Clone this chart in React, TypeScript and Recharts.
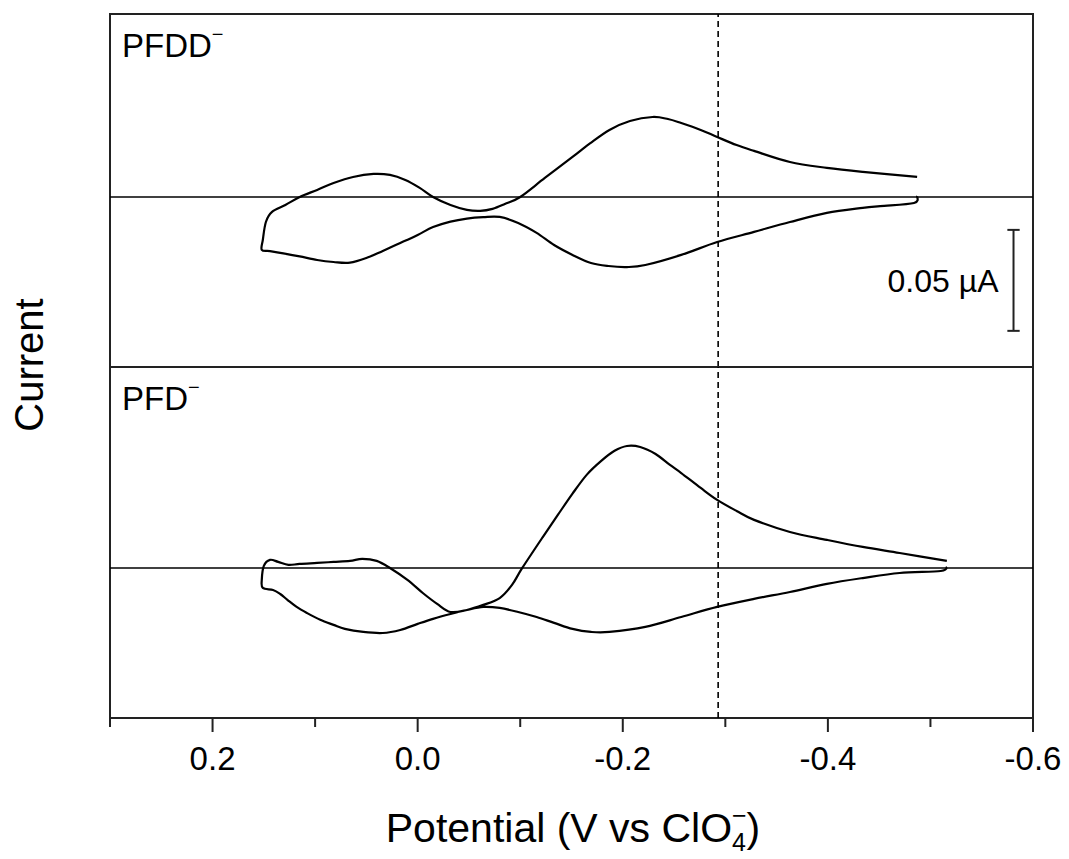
import React from 'react';
import { LineChart, Line, XAxis, YAxis, ReferenceLine, ReferenceArea } from 'recharts';

// PFDD- scan, potential (V) and current (µA) in recorded order
const pfddPotential = [
  -0.487, -0.484, -0.451, -0.434, -0.399, -0.363, -0.328, -0.292, -0.257, -0.222,
  -0.204, -0.186, -0.169, -0.151, -0.133, -0.116, -0.098, -0.080, -0.064, -0.048,
  -0.032, -0.015, 0.0, 0.017, 0.034, 0.049, 0.066, 0.082, 0.098, 0.115,
  0.131, 0.144, 0.152, 0.151, 0.148, 0.142, 0.129, 0.115, 0.098, 0.082,
  0.063, 0.043, 0.027, 0.012, -0.002, -0.015, -0.032, -0.048, -0.061, -0.073,
  -0.085, -0.100, -0.124, -0.151, -0.168, -0.187, -0.207, -0.229, -0.244, -0.257,
  -0.276, -0.292, -0.311, -0.328, -0.363, -0.399, -0.434, -0.487,
];
const pfddCurrent = [
  0.0005, -0.0030, -0.0045, -0.0054, -0.0079, -0.0124, -0.0173, -0.0223, -0.0287, -0.0337,
  -0.0347, -0.0342, -0.0327, -0.0287, -0.0238, -0.0178, -0.0129, -0.0099, -0.0100, -0.0107,
  -0.0122, -0.0149, -0.0188, -0.0228, -0.0267, -0.0300, -0.0325, -0.0322, -0.0312, -0.0294,
  -0.0279, -0.0268, -0.0262, -0.0213, -0.0124, -0.0074, -0.0040, 0.0, 0.0035, 0.0069,
  0.0099, 0.0114, 0.0109, 0.0084, 0.0045, 0.0, -0.0040, -0.0064, -0.0069, -0.0059,
  -0.0035, 0.0, 0.0094, 0.0198, 0.0265, 0.0332, 0.0376, 0.0396, 0.0386, 0.0366,
  0.0332, 0.0297, 0.0257, 0.0228, 0.0173, 0.0144, 0.0124, 0.0099,
];

// PFD- scan
const pfdPotential = [
  -0.516, -0.510, -0.470, -0.434, -0.399, -0.363, -0.328, -0.292, -0.257, -0.222,
  -0.187, -0.169, -0.151, -0.133, -0.116, -0.098, -0.080, -0.064, -0.048, -0.032,
  -0.015, 0.0, 0.017, 0.034, 0.053, 0.071, 0.082, 0.095, 0.108, 0.118,
  0.127, 0.134, 0.141, 0.151, 0.152, 0.150, 0.144, 0.136, 0.126, 0.115,
  0.098, 0.082, 0.066, 0.054, 0.040, 0.027, 0.010, -0.005, -0.019, -0.032,
  -0.048, -0.064, -0.080, -0.092, -0.102, -0.122, -0.137, -0.151, -0.165, -0.179,
  -0.192, -0.204, -0.217, -0.232, -0.246, -0.257, -0.276, -0.292, -0.311, -0.328,
  -0.363, -0.399, -0.434, -0.470, -0.516,
];
const pfdCurrent = [
  0.0005, -0.0015, -0.0025, -0.0050, -0.0079, -0.0119, -0.0153, -0.0193, -0.0243, -0.0292,
  -0.0317, -0.0317, -0.0302, -0.0272, -0.0243, -0.0218, -0.0198, -0.0193, -0.0208, -0.0228,
  -0.0252, -0.0277, -0.0307, -0.0322, -0.0317, -0.0302, -0.0282, -0.0257, -0.0223, -0.0193,
  -0.0158, -0.0129, -0.0109, -0.0099, -0.0059, 0.0010, 0.0040, 0.0030, 0.0015, 0.0020,
  0.0025, 0.0030, 0.0035, 0.0045, 0.0035, 0.0, -0.0059, -0.0124, -0.0178, -0.0218,
  -0.0208, -0.0183, -0.0149, -0.0084, 0.0, 0.0153, 0.0265, 0.0368, 0.0462, 0.0530,
  0.0580, 0.0604, 0.0599, 0.0564, 0.0510, 0.0470, 0.0396, 0.0337, 0.0282, 0.0238,
  0.0178, 0.0139, 0.0104, 0.0074, 0.0035,
];

const xTicks = [0.3, 0.2, 0.1, 0.0, -0.1, -0.2, -0.3, -0.4, -0.5, -0.6];
const majorTicks = [0.2, 0.0, -0.2, -0.4, -0.6];
const xDomain = [-0.6, 0.3];
const topDomain = [-0.0842, 0.0906];
const bottomDomain = [-0.0743, 0.0995];
const markerPotential = -0.293;
// 0.05 µA scale bar
const barPotential = -0.581;
const barCapHalf = 0.006;
const barTop = -0.0163;
const barBottom = -0.0663;

const pfddData = pfddPotential.map((v, k) => ({ v, i: pfddCurrent[k] }));
const pfdData = pfdPotential.map((v, k) => ({ v, i: pfdCurrent[k] }));

const FONT = '"Liberation Sans", Arial, sans-serif';
const INK = '#222';

// parametric catmull-rom, the scans loop back on themselves so monotone won't do
function catmullRom(context: any) {
  let pts: number[][] = [];
  return {
    areaStart() {},
    areaEnd() {},
    lineStart() { pts = []; },
    point(x: number, y: number) { pts.push([+x, +y]); },
    lineEnd() {
      const n = pts.length;
      if (!n) return;
      context.moveTo(pts[0][0], pts[0][1]);
      for (let k = 0; k < n - 1; k++) {
        const p0 = pts[Math.max(k - 1, 0)];
        const p1 = pts[k];
        const p2 = pts[k + 1];
        const p3 = pts[Math.min(k + 2, n - 1)];
        context.bezierCurveTo(
          p1[0] + (p2[0] - p0[0]) / 6, p1[1] + (p2[1] - p0[1]) / 6,
          p2[0] - (p3[0] - p1[0]) / 6, p2[1] - (p3[1] - p1[1]) / 6,
          p2[0], p2[1],
        );
      }
    },
  };
}

function PotentialTick({ x, y, payload }: any) {
  const v = payload.value;
  const major = majorTicks.some((m) => Math.abs(m - v) < 1e-6);
  return (
    <g>
      <line x1={x} x2={x} y1={y} y2={y + (major ? 14 : 9)} stroke={INK} strokeWidth={2} />
      {major && (
        <text x={x} y={y + 52} textAnchor="middle" fontSize={33} fill="#000" fontFamily={FONT}>
          {v.toFixed(1)}
        </text>
      )}
    </g>
  );
}

export default function App() {
  return (
    <div style={{ position: 'absolute', left: 0, top: 0, width: 1069, height: 859, background: '#fff', fontFamily: FONT }}>
      <div style={{ position: 'absolute', left: 0, top: 0 }}>
        <LineChart width={1069} height={380} margin={{ top: 14, right: 36, bottom: 13, left: 110 }}>
          <XAxis type="number" dataKey="v" domain={xDomain} reversed hide allowDataOverflow />
          <YAxis type="number" domain={topDomain} hide allowDataOverflow />
          <ReferenceArea x1={xDomain[0]} x2={xDomain[1]} y1={topDomain[0]} y2={topDomain[1]}
            fill="#fff" fillOpacity={0} stroke={INK} strokeWidth={2} />
          <ReferenceLine y={0} stroke="#000" strokeWidth={1.6} />
          <ReferenceLine x={markerPotential} stroke="#000" strokeWidth={1.6} strokeDasharray="6 4" />
          <ReferenceLine segment={[{ x: barPotential, y: barTop }, { x: barPotential, y: barBottom }]}
            stroke={INK} strokeWidth={2}
            label={{ value: '0.05 µA', position: 'left', offset: 15, fontSize: 32, fill: '#000' }} />
          <ReferenceLine segment={[{ x: barPotential + barCapHalf, y: barTop }, { x: barPotential - barCapHalf, y: barTop }]}
            stroke={INK} strokeWidth={2} />
          <ReferenceLine segment={[{ x: barPotential + barCapHalf, y: barBottom }, { x: barPotential - barCapHalf, y: barBottom }]}
            stroke={INK} strokeWidth={2} />
          <Line data={pfddData} dataKey="i" type={catmullRom as any} stroke="#000" strokeWidth={2.2}
            dot={false} activeDot={false} isAnimationActive={false} />
        </LineChart>
      </div>
      <div style={{ position: 'absolute', left: 0, top: 354 }}>
        <LineChart width={1069} height={505} margin={{ top: 13, right: 36, bottom: 0, left: 110 }}>
          <XAxis type="number" dataKey="v" domain={xDomain} reversed allowDataOverflow
            ticks={xTicks} interval={0} height={141} tickSize={0} tickMargin={0}
            tickLine={false} axisLine={false} tick={<PotentialTick />} />
          <YAxis type="number" domain={bottomDomain} hide allowDataOverflow />
          <ReferenceArea x1={xDomain[0]} x2={xDomain[1]} y1={bottomDomain[0]} y2={bottomDomain[1]}
            fill="#fff" fillOpacity={0} stroke={INK} strokeWidth={2} />
          <ReferenceLine y={0} stroke="#000" strokeWidth={1.6} />
          <ReferenceLine x={markerPotential} stroke="#000" strokeWidth={1.6} strokeDasharray="6 4" />
          <Line data={pfdData} dataKey="i" type={catmullRom as any} stroke="#000" strokeWidth={2.2}
            dot={false} activeDot={false} isAnimationActive={false} />
        </LineChart>
      </div>
      <svg width={1069} height={859} style={{ position: 'absolute', left: 0, top: 0, pointerEvents: 'none' }}>
        <text x={122} y={57} fontSize={33} fill="#000">
          PFDD<tspan dy={-16} fontSize={20}>−</tspan>
        </text>
        <text x={122} y={410} fontSize={33} fill="#000">
          PFD<tspan dy={-16} fontSize={20}>−</tspan>
        </text>
        <text transform="translate(43,365) rotate(-90)" textAnchor="middle" fontSize={40} fill="#000">
          Current
        </text>
        <text x={573} y={842} textAnchor="middle" fontSize={41} fill="#000">
          Potential (V vs ClO<tspan dy={9} fontSize={25}>4</tspan>
          <tspan dx={-14} dy={-27} fontSize={25}>−</tspan>
          <tspan dy={18} fontSize={41}>)</tspan>
        </text>
      </svg>
    </div>
  );
}
